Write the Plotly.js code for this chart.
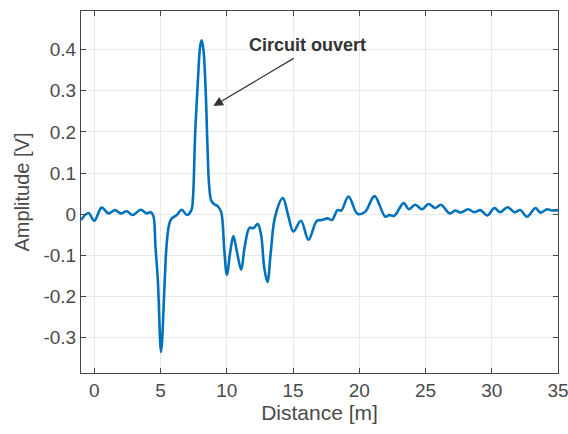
<!DOCTYPE html>
<html>
<head>
<meta charset="utf-8">
<script src="https://cdn.plot.ly/plotly-3.0.1.min.js"></script>
<style>html,body{margin:0;padding:0;background:#fff;}#chart{width:568px;height:434px;}</style>
</head>
<body>
<div id="chart"></div>
<script>
const distance = [-1.0,-0.44,0,0.56,1.07,1.57,2.0,2.46,2.9,3.51,3.95,4.26,4.46,4.62,4.8,5.04,5.32,5.45,5.62,5.8,6.23,6.6,6.99,7.33,7.45,7.62,7.83,8.0,8.11,8.24,8.41,8.54,8.67,8.83,9.03,9.33,9.58,9.82,10.01,10.27,10.5,10.76,11.09,11.35,11.72,12.01,12.34,12.59,12.83,13.07,13.33,13.65,14.23,14.66,15.03,15.6,16.17,16.8,17.18,17.61,17.94,18.36,18.64,19.19,19.87,20.45,21.15,21.96,22.29,22.64,23.35,23.74,24.22,24.74,25.23,25.73,26.16,26.82,27.25,27.68,28.21,28.69,29.14,29.68,30.2,30.64,31.19,31.71,32.16,32.66,33.3,33.66,34.18,34.55,35.0];
const amplitude = [-0.014,0.003,-0.016,0.016,0.002,0.010,0.002,0.007,-0.002,0.011,0.002,0.005,-0.004,-0.079,-0.16,-0.335,-0.16,-0.079,-0.03,-0.012,-0.002,0.011,-0.002,0.01,0.04,0.2,0.33,0.41,0.423,0.40,0.30,0.17,0.07,0.033,0.025,0.019,0.005,-0.09,-0.147,-0.09,-0.053,-0.09,-0.135,-0.08,-0.033,-0.034,-0.024,-0.05,-0.13,-0.165,-0.09,-0.006,0.039,-0.006,-0.042,-0.016,-0.062,-0.016,-0.014,-0.010,-0.014,0.010,0.009,0.043,0.001,0.006,0.044,-0.006,-0.002,-0.004,0.027,0.012,0.023,0.012,0.025,0.015,0.023,0.002,0.009,0.004,0.012,0.005,0.010,-0.003,0.015,0.005,0.017,0.005,0.010,-0.006,0.015,0.004,0.012,0.009,0.01];
const xTicks = [0,5,10,15,20,25,30,35];
const yTicks = [-0.3,-0.2,-0.1,0,0.1,0.2,0.3,0.4];
const yTickText = ['-0.3','-0.2','-0.1','0','0.1','0.2','0.3','0.4'];
const annotationText = 'Circuit ouvert';

const textColor = '#4a4a4a';
const fontFam = 'Liberation Sans, Arial, sans-serif';
const axisCommon = {
  showline: true, linecolor: '#454545', linewidth: 1, mirror: 'ticks',
  ticks: 'inside', ticklen: 5, tickcolor: '#454545', tickwidth: 1,
  showgrid: true, gridcolor: '#e8e8e8', gridwidth: 1, zeroline: false,
  ticklabeloverflow: 'allow',
  tickfont: {family: fontFam, size: 19, color: textColor}
};

const trace = {
  x: distance, y: amplitude, type: 'scatter', mode: 'lines',
  line: {color: '#0072BD', width: 2.6, shape: 'spline', smoothing: 1},
  hoverinfo: 'skip'
};

const layout = {
  width: 568, height: 434,
  margin: {l: 81, r: 10, t: 11, b: 61},
  paper_bgcolor: '#fff', plot_bgcolor: '#fff',
  showlegend: false,
  xaxis: Object.assign({}, axisCommon, {
    range: [-1, 35.0005], tickvals: xTicks, ticktext: xTicks.map(String),
    title: {text: 'Distance [m]', font: {family: fontFam, size: 21, color: textColor}, standoff: 4}
  }),
  yaxis: Object.assign({}, axisCommon, {
    range: [-0.386, 0.494], tickvals: yTicks, ticktext: yTickText,
    ticklabelstandoff: 0,
    title: {text: 'Amplitude [V]', font: {family: fontFam, size: 20, color: textColor}, standoff: 8}
  }),
  annotations: [
    {x: 16.1, y: 0.412, xref: 'x', yref: 'y', text: '<b>' + annotationText + '</b>', showarrow: false,
     font: {family: fontFam, size: 18, color: '#333'}},
    {x: 8.99, y: 0.263, xref: 'x', yref: 'y', ax: 15.16, ay: 0.381, axref: 'x', ayref: 'y',
     text: '', showarrow: true, arrowhead: 2, arrowsize: 1.6, arrowwidth: 1.2, arrowcolor: '#333'}
  ]
};

Plotly.newPlot('chart', [trace], layout, {staticPlot: true, displayModeBar: false});
</script>
</body>
</html>
